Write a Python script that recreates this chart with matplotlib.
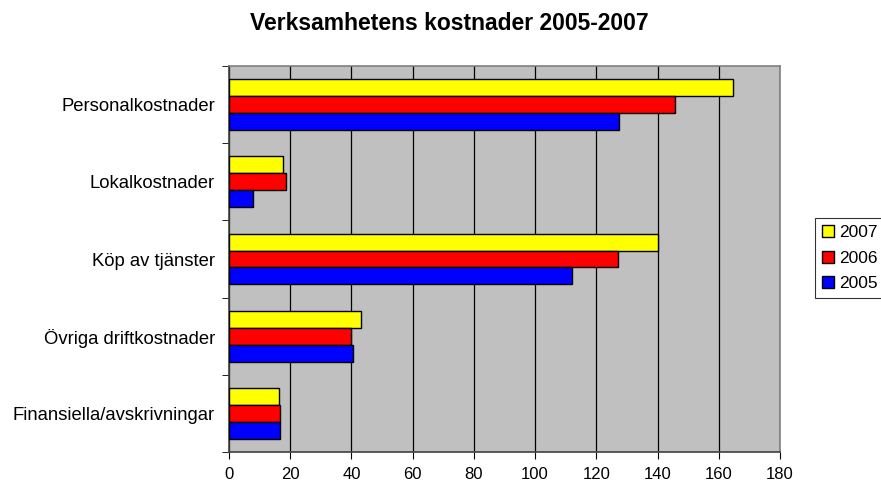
import matplotlib
matplotlib.use("Agg")
import matplotlib.pyplot as plt
import numpy as np

plt.rcParams['font.family'] = ['Liberation Sans', 'DejaVu Sans']

categories = ["Personalkostnader", "Lokalkostnader", "Köp av tjänster",
              "Övriga driftkostnader", "Finansiella/avskrivningar"]
v2007 = [164.5, 17.5, 140, 43.2, 16.2]
v2006 = [145.7, 18.5, 127, 39.9, 16.7]
v2005 = [127.3, 8.0, 112, 40.4, 16.8]
series = [("2007", v2007, "#FFFF00"), ("2006", v2006, "#FF0000"), ("2005", v2005, "#0000FF")]
xticks = [0, 20, 40, 60, 80, 100, 120, 140, 160, 180]

fig = plt.figure(figsize=(8.81, 4.82), dpi=100)
ax = fig.add_axes([229/881, 1-452/482, (780-229)/881, (452-66)/482])
ax.set_facecolor("#C0C0C0")

n = len(categories)
y = np.arange(n)[::-1].astype(float)  # top category highest
bh = 0.22
handles = []
for i, (lab, vals, col) in enumerate(series):
    offs = (1 - i) * bh
    b = ax.barh(y + offs, vals, height=bh, color=col, edgecolor="black", linewidth=1.0, zorder=3, label=lab)
    handles.append(b)

ax.set_xlim(0, 180)
ax.set_ylim(-0.5, n - 0.5)
ax.set_xticks(xticks)
ax.set_xticklabels([str(t) for t in xticks], fontsize=12)
ax.set_yticks(y)
ax.set_yticklabels(categories, fontsize=13.3)
ax.tick_params(axis='y', length=0, pad=10)
ax.set_yticks(np.arange(-0.5, n, 1.0), minor=True)
ax.tick_params(axis='y', which='minor', length=5, direction='out')
ax.tick_params(axis='x', length=5, direction='out', pad=6)
ax.xaxis.grid(True, color="black", linewidth=0.9, zorder=0)
ax.set_axisbelow(True)
for s in ['top', 'right']:
    ax.spines[s].set_color("#808080")
    ax.spines[s].set_linewidth(1.2)
for s in ['left', 'bottom']:
    ax.spines[s].set_color("#404040")
    ax.spines[s].set_linewidth(1.2)

fig.text(449/881, 1-23/482, "Verksamhetens kostnader 2005-2007", ha="center", va="center",
         fontsize=16.5, fontweight="bold")

leg = fig.legend(handles=handles, labels=["2007", "2006", "2005"], loc="upper left",
                 bbox_to_anchor=(815/881, 1-218/482), fontsize=12.5, frameon=True, fancybox=False,
                 handlelength=0.7, handleheight=0.7, handletextpad=0.3, borderpad=0.4,
                 labelspacing=0.6, borderaxespad=0)
leg.get_frame().set_edgecolor("black")
leg.get_frame().set_linewidth(0.8)

fig.savefig("out.png", dpi=100)
